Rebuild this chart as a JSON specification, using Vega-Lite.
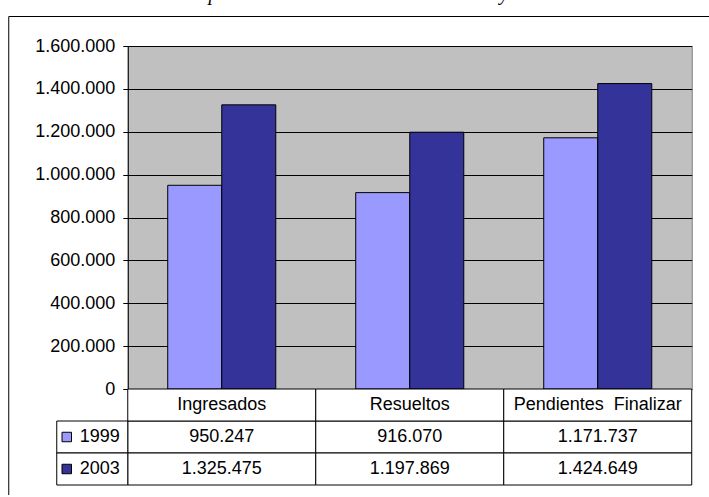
{
  "$schema": "https://vega.github.io/schema/vega-lite/v6.json",
  "autosize": {"type": "pad"},
  "padding": {"left": 7.75, "top": -16, "right": -54, "bottom": -244},
  "background": "white",
  "config": {
    "locale": {"number": {"decimal": ",", "thousands": ".", "grouping": [3], "currency": ["", ""]}},
    "font": "Liberation Sans",
    "view": {"stroke": null}
  },
  "title": {
    "text": "Comparación Causas Civiles Años 1999 y 2003",
    "font": "Liberation Serif",
    "fontStyle": "italic",
    "fontWeight": "normal",
    "fontSize": 20,
    "color": "black",
    "offset": 11.25,
    "dx": -23,
    "anchor": "middle"
  },
  "data": {
    "values": [
      {"categoria": "Ingresados", "anio": "1999", "valor": 950247},
      {"categoria": "Ingresados", "anio": "2003", "valor": 1325475},
      {"categoria": "Resueltos", "anio": "1999", "valor": 916070},
      {"categoria": "Resueltos", "anio": "2003", "valor": 1197869},
      {"categoria": "Pendientes\u00a0 Finalizar", "anio": "1999", "valor": 1171737},
      {"categoria": "Pendientes\u00a0 Finalizar", "anio": "2003", "valor": 1424649}
    ]
  },
  "spacing": 0,
  "bounds": "flush",
  "center": true,
  "resolve": {"scale": {"x": "independent", "y": "independent", "xOffset": "independent"}},
  "vconcat": [
    {
      "width": 564,
      "height": 343,
      "view": {"fill": "#C0C0C0", "stroke": "#808080", "strokeWidth": 1},
      "mark": {"type": "bar", "stroke": "black", "strokeWidth": 1},
      "encoding": {
        "x": {"field": "categoria", "type": "nominal", "sort": null, "scale": {"paddingInner": 0, "paddingOuter": 0}, "axis": null},
        "xOffset": {"field": "anio", "type": "nominal", "scale": {"paddingInner": 0, "paddingOuter": 0.74}},
        "y": {
          "field": "valor", "type": "quantitative",
          "scale": {"domain": [0, 1600000], "nice": false},
          "axis": {
            "title": null,
            "values": [0, 200000, 400000, 600000, 800000, 1000000, 1200000, 1400000, 1600000],
            "format": ",d",
            "labelFont": "Liberation Sans",
            "labelFontSize": 18,
            "labelColor": "black",
            "labelPadding": 8,
            "tickSize": 5,
            "tickColor": "black",
            "domainColor": "black",
            "grid": true,
            "gridColor": "black",
            "gridWidth": 1
          }
        },
        "color": {
          "field": "anio", "type": "nominal",
          "scale": {"domain": ["1999", "2003"], "range": ["#9999FF", "#333399"]},
          "legend": {
            "orient": "none", "legendX": -48.5, "legendY": -30, "direction": "horizontal",
            "title": null, "padding": 360, "strokeColor": "black", "fillColor": "transparent",
            "labelOpacity": 0, "symbolOpacity": 0, "symbolStrokeWidth": 0, "labelFontSize": 2, "symbolSize": 4
          }
        }
      }
    },
    {
      "width": 706,
      "height": 96,
      "encoding": {
        "y": {"field": "anio", "type": "nominal", "scale": {"domain": ["hdr", "1999", "2003"], "paddingInner": 0, "paddingOuter": 0}, "axis": null},
        "x": {"field": "categoria", "type": "nominal", "sort": null, "scale": {"domain": ["Ingresados", "Resueltos", "Pendientes\u00a0 Finalizar"], "paddingInner": 0, "paddingOuter": 0.37766}, "axis": null}
      },
      "layer": [
        {"mark": {"type": "rect", "fill": "white", "stroke": "black", "strokeWidth": 1}},
        {
          "mark": {"type": "text", "font": "Liberation Sans", "fontSize": 18, "color": "black"},
          "encoding": {"text": {"field": "valor", "type": "quantitative", "format": ",d"}}
        },
        {
          "transform": [{"filter": "datum.anio == '1999'"}],
          "mark": {"type": "rect", "fill": "white", "stroke": "black", "strokeWidth": 1},
          "encoding": {"y": {"datum": "hdr", "type": "nominal"}}
        },
        {
          "transform": [{"filter": "datum.anio == '1999'"}],
          "mark": {"type": "text", "font": "Liberation Sans", "fontSize": 18, "color": "black"},
          "encoding": {"y": {"datum": "hdr", "type": "nominal"}, "text": {"field": "categoria", "type": "nominal"}}
        },
        {
          "transform": [{"filter": "datum.categoria == 'Ingresados'"}],
          "mark": {"type": "rect", "fill": "white", "stroke": "black", "strokeWidth": 1},
          "encoding": {
            "x": {"datum": "Ingresados", "type": "nominal", "bandPosition": -0.37766},
            "x2": {"datum": "Ingresados", "bandPosition": 0}
          }
        },
        {
          "transform": [{"filter": "datum.categoria == 'Ingresados'"}],
          "mark": {"type": "square", "size": 90, "filled": true, "opacity": 1, "stroke": "black", "strokeWidth": 1},
          "encoding": {
            "x": {"datum": "Ingresados", "type": "nominal", "bandPosition": -0.3245},
            "color": {"field": "anio", "type": "nominal"}
          }
        },
        {
          "transform": [{"filter": "datum.categoria == 'Ingresados'"}],
          "mark": {"type": "text", "align": "left", "font": "Liberation Sans", "fontSize": 18, "color": "black"},
          "encoding": {
            "x": {"datum": "Ingresados", "type": "nominal", "bandPosition": -0.2553},
            "text": {"field": "anio", "type": "nominal"}
          }
        }
      ]
    }
  ]
}
